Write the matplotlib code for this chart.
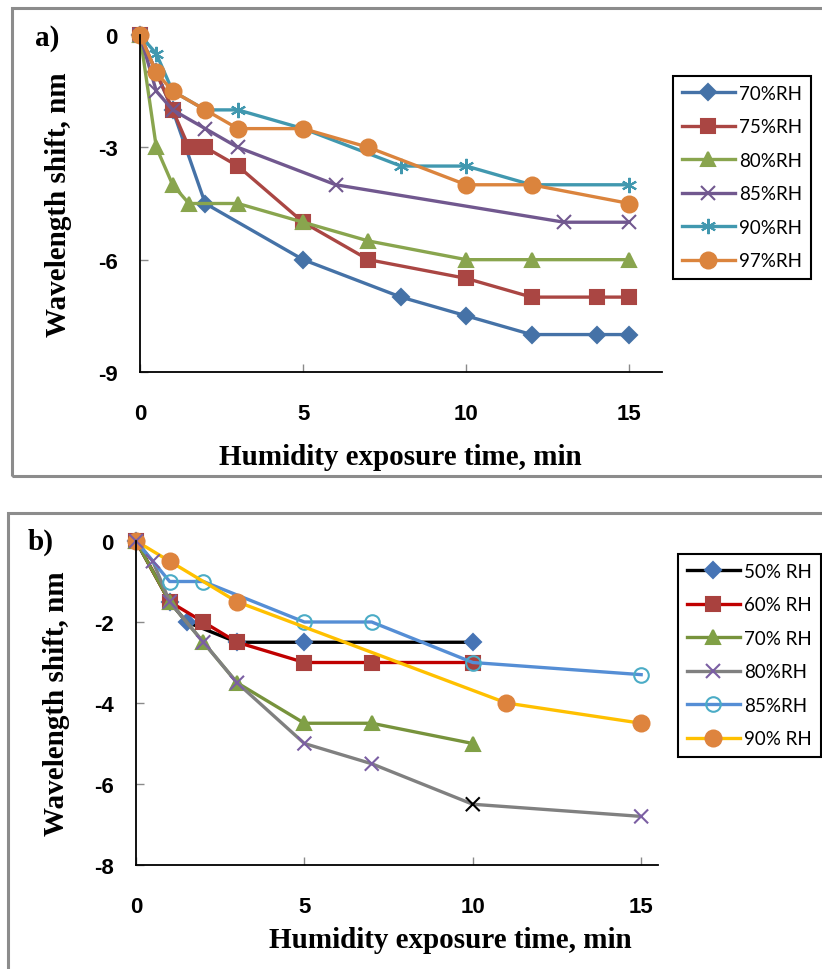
import matplotlib
matplotlib.use("Agg")
import matplotlib.pyplot as plt
from matplotlib.patches import Rectangle

# ---------------- panel a data ----------------
t70a = [0, 0.5, 1, 2, 5, 8, 10, 12, 14, 15]
s70a = [0, -1, -2, -4.5, -6, -7, -7.5, -8, -8, -8]
t75a = [0, 1, 1.5, 2, 3, 5, 7, 10, 12, 14, 15]
s75a = [0, -2, -3, -3, -3.5, -5, -6, -6.5, -7, -7, -7]
t80a = [0, 0.5, 1, 1.5, 3, 5, 7, 10, 12, 15]
s80a = [0, -3, -4, -4.5, -4.5, -5, -5.5, -6, -6, -6]
t85a = [0, 0.5, 1, 2, 3, 6, 13, 15]
s85a = [0, -1.5, -2, -2.5, -3, -4, -5, -5]
t90a = [0, 0.5, 1, 2, 3, 5, 8, 10, 12, 15]
s90a = [0, -0.5, -1.5, -2, -2, -2.5, -3.5, -3.5, -4, -4]
t97a = [0, 0.5, 1, 2, 3, 5, 7, 10, 12, 15]
s97a = [0, -1, -1.5, -2, -2.5, -2.5, -3, -4, -4, -4.5]
labels_a = ["70%RH", "75%RH", "80%RH", "85%RH", "90%RH", "97%RH"]

# ---------------- panel b data ----------------
t50b = [0, 1, 1.5, 3, 5, 10]
s50b = [0, -1.5, -2, -2.5, -2.5, -2.5]
t60b = [0, 1, 2, 3, 5, 7, 10]
s60b = [0, -1.5, -2, -2.5, -3, -3, -3]
t70b = [0, 1, 2, 3, 5, 7, 10]
s70b = [0, -1.5, -2.5, -3.5, -4.5, -4.5, -5]
t80b = [0, 0.5, 1, 2, 3, 5, 7, 10, 15]
s80b = [0, -0.5, -1.5, -2.5, -3.5, -5, -5.5, -6.5, -6.8]
t85b = [0, 1, 2, 5, 7, 10, 15]
s85b = [0, -1, -1, -2, -2, -3, -3.3]
t90b = [0, 1, 3, 11, 15]
s90b = [0, -0.5, -1.5, -4, -4.5]
labels_b = ["50% RH", "60% RH", "70% RH", "80%RH", "85%RH", "90% RH"]

SERIF = "Liberation Serif"
SANS = "Lato"
TICK_FONT = "Liberation Sans"
TICK_GRAY = "#8a8a8a"

plt.rcParams["axes.unicode_minus"] = False

W, H = 822, 970
fig = plt.figure(figsize=(W / 100, H / 100), dpi=100)


def fx(px):
    return px / W


def fy(py):
    return 1 - py / H


def style_axes(ax, xlim, ylim, yticks):
    ax.set_xlim(*xlim)
    ax.set_ylim(*ylim)
    ax.set_xticks([0, 5, 10, 15])
    ax.set_xticklabels([str(v) for v in [0, 5, 10, 15]],
                       family=TICK_FONT, weight="bold")
    ax.set_yticks(yticks)
    ax.set_yticklabels([str(v) for v in yticks], family=TICK_FONT,
                       weight="bold")
    for side in ("top", "right"):
        ax.spines[side].set_visible(False)
    for side in ("left", "bottom"):
        ax.spines[side].set_linewidth(1.3)
        ax.spines[side].set_color("black")
    ax.tick_params(axis="both", direction="in", length=6, width=1,
                   color=TICK_GRAY, labelsize=16)
    ax.tick_params(axis="y", pad=16)
    ax.tick_params(axis="x", pad=22)


def add_legend(ax, x_px, y_px):
    leg = ax.legend(loc="upper left", bbox_to_anchor=(fx(x_px), fy(y_px)),
                    bbox_transform=fig.transFigure, borderaxespad=0,
                    prop={"family": SANS, "size": 13.5},
                    handlelength=2.8, handletextpad=0.25, labelspacing=0.88,
                    borderpad=0.48, fancybox=False, framealpha=1)
    leg.get_frame().set_edgecolor("black")
    leg.get_frame().set_linewidth(1.5)
    return leg


# ---------------- panel a ----------------
axa = fig.add_axes([fx(140), fy(373), fx(662) - fx(140), fy(36) - fy(373)])
lw = 2.4
series_a = [
    (t70a, s70a, "#4572A7", "D", 8.5, "#4572A7"),
    (t75a, s75a, "#AA4643", "s", 10.5, "#AA4643"),
    (t80a, s80a, "#89A54E", "^", 10.5, "#89A54E"),
    (t85a, s85a, "#71588F", "x", 10, "#71588F"),
    (t90a, s90a, "#4198AF", (6, 2, 0), 11, "#4198AF"),
    (t97a, s97a, "#DB843D", "o", 11.5, "#DB843D"),
]
for (t, s, c, m, ms, mc), lab in zip(series_a, labels_a):
    axa.plot(t, s, color=c, lw=lw, marker=m, ms=ms, mfc=mc, mec=mc,
             mew=1.5, label=lab, clip_on=False)
style_axes(axa, (0, 16.0), (-9, 0), [-9, -6, -3, 0])
add_legend(axa, 673, 77)

fig.text(fx(58), fy(205), "Wavelength shift, nm", rotation=90, ha="center",
         va="center", family=SERIF, weight="bold", size=21)
fig.text(fx(400), fy(458), "Humidity exposure time, min", ha="center",
         va="center", family=SERIF, weight="bold", size=21)
fig.text(fx(35), fy(38), "a)", ha="left", va="center", family=SERIF,
         weight="bold", size=21)

# ---------------- panel b ----------------
axb = fig.add_axes([fx(136), fy(866), fx(658) - fx(136), fy(542) - fy(866)])
mec80b = ["#7B5FA3"] * len(t80b)
mec80b[t80b.index(10)] = "black"
series_b = [
    (t50b, s50b, "black", "D", 8.5, "#4674B5", "#4674B5"),
    (t60b, s60b, "#C00000", "s", 10.5, "#A9413E", "#A9413E"),
    (t70b, s70b, "#77933C", "^", 10.5, "#80A046", "#80A046"),
    (t80b, s80b, "#808080", None, 10, None, None),
    (t85b, s85b, "#558ED5", "o", 10.5, "none", "#4BACC6"),
    (t90b, s90b, "#FFC000", "o", 11.5, "#DE843E", "#DE843E"),
]
for (t, s, c, m, ms, mfc, mec), lab in zip(series_b, labels_b):
    if m is None:
        axb.plot(t, s, color=c, lw=lw, clip_on=False, zorder=2)
        axb.scatter(t, s, marker="x", s=ms ** 2, c=mec80b, linewidths=1.5,
                    clip_on=False, zorder=2.1)
        axb.plot([], [], color=c, lw=lw, marker="x", ms=ms, mec="#7B5FA3",
                 mew=1.5, label=lab)
    else:
        axb.plot(t, s, color=c, lw=lw, marker=m, ms=ms, mfc=mfc, mec=mec,
                 mew=1.5, label=lab, clip_on=False)
style_axes(axb, (0, 15.5), (-8, 0), [-8, -6, -4, -2, 0])
add_legend(axb, 678, 555)

fig.text(fx(57), fy(704), "Wavelength shift, nm", rotation=90, ha="center",
         va="center", family=SERIF, weight="bold", size=21)
fig.text(fx(450), fy(941), "Humidity exposure time, min", ha="center",
         va="center", family=SERIF, weight="bold", size=21)
fig.text(fx(28), fy(542), "b)", ha="left", va="center", family=SERIF,
         weight="bold", size=21)

# ---------------- panel frames ----------------
frame_kw = dict(transform=fig.transFigure, fill=False, edgecolor="#8c8c8c",
                linewidth=2.2, clip_on=False)
fig.patches.append(Rectangle((fx(12), fy(477)), fx(840) - fx(12),
                             fy(9) - fy(477), **frame_kw))
fig.patches.append(Rectangle((fx(8), fy(990)), fx(840) - fx(8),
                             fy(514) - fy(990), **frame_kw))

fig.savefig("out.png", dpi=100)
